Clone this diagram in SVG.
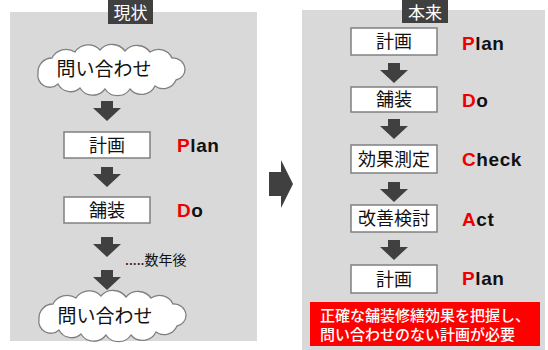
<svg xmlns="http://www.w3.org/2000/svg" xmlns:xlink="http://www.w3.org/1999/xlink" width="548" height="350" viewBox="0 0 548 350">
<style>
.panel{fill:#d9d9d9}
.lbl{fill:#404040}
.lblt{fill:#ffffff;font-family:"Noto Sans CJK JP",sans-serif;font-size:17px;text-anchor:middle}
.box{fill:#ffffff;stroke:#808080;stroke-width:1.5}
.jp{font-family:"Noto Sans CJK JP",sans-serif;font-size:18px;fill:#111;text-anchor:middle}
.cloud{fill:#ffffff;stroke:#808080;stroke-width:1.3}
.cl{font-family:"Noto Sans CJK JP",sans-serif;font-size:19px;fill:#111;text-anchor:middle}
.pdca{font-family:"Liberation Sans",Arial,sans-serif;font-weight:bold;font-size:19px;letter-spacing:0.6px;fill:#111}
.r{fill:#ee0000}
.arr{fill:#404040}
.note{font-family:"Noto Sans CJK JP",sans-serif;font-size:15px;font-weight:500;fill:#ffffff}
</style>
<defs>
<path id="ad" d="M-6,0 h12 v7 h8 l-14,13 l-14,-13 h8 z"/>
<path id="cloud" d="M-72,3 A14,14 0 0 1 -58,-12 A16,16 0 0 1 -35,-18 A16,16 0 0 1 -10,-20 A16,16 0 0 1 15,-19 A16,16 0 0 1 40,-18 A15,15 0 0 1 62,-12 A12,12 0 0 1 75,-1 A11,11 0 0 1 66,10 A14,14 0 0 1 45,16 A15,15 0 0 1 20,19 A15,15 0 0 1 -5,19 A15,15 0 0 1 -30,18 A14,14 0 0 1 -52,14 A12,12 0 0 1 -72,3 Z"/>
</defs>

<rect class="panel" x="10" y="12" width="247" height="329"/>
<rect class="panel" x="302" y="10" width="243" height="340"/>

<g id="label-genjo"><rect class="lbl" x="108" y="0" width="45" height="24"/><text class="lblt" x="130.5" y="19">現状</text></g>
<g id="label-honrai"><rect class="lbl" x="402" y="0" width="46" height="23"/><text class="lblt" x="425" y="18.5">本来</text></g>

<g id="cloud1"><use xlink:href="#cloud" href="#cloud" class="cloud" transform="translate(110,70)"/><text class="cl" x="104" y="76">問い合わせ</text></g>
<g id="plan-left"><rect class="box" x="64" y="132" width="86" height="26"/><text class="jp" x="107" y="151.5">計画</text><text class="pdca" x="177" y="152"><tspan class="r">P</tspan>lan</text></g>
<g id="do-left"><rect class="box" x="64" y="197" width="86" height="26"/><text class="jp" x="107" y="216.5">舗装</text><text class="pdca" x="177" y="217"><tspan class="r">D</tspan>o</text></g>
<g id="years"><text x="125" y="265" style="font-family:'Noto Sans CJK JP',sans-serif;font-size:14px;fill:#111">.....数年後</text></g>
<g id="cloud2"><use xlink:href="#cloud" href="#cloud" class="cloud" transform="translate(111,316)"/><text class="cl" x="105" y="323">問い合わせ</text></g>

<g id="plan-r1"><rect class="box" x="351" y="28" width="86" height="27"/><text class="jp" x="394" y="48">計画</text><text class="pdca" x="462" y="50"><tspan class="r">P</tspan>lan</text></g>
<g id="do-r"><rect class="box" x="351" y="87" width="86" height="25"/><text class="jp" x="394" y="106">舗装</text><text class="pdca" x="462" y="107"><tspan class="r">D</tspan>o</text></g>
<g id="check-r"><rect class="box" x="351" y="145" width="86" height="28"/><text class="jp" x="394" y="165.5">効果測定</text><text class="pdca" x="462" y="166"><tspan class="r">C</tspan>heck</text></g>
<g id="act-r"><rect class="box" x="351" y="205" width="86" height="27"/><text class="jp" x="394" y="225">改善検討</text><text class="pdca" x="462" y="226"><tspan class="r">A</tspan>ct</text></g>
<g id="plan-r2"><rect class="box" x="351" y="265" width="86" height="28"/><text class="jp" x="394" y="285.5">計画</text><text class="pdca" x="462" y="285"><tspan class="r">P</tspan>lan</text></g>

<g id="note"><rect x="310" y="302" width="230" height="44" fill="#ff0000"/><text class="note" x="320" y="321">正確な舗装修繕効果を把握し、</text><text class="note" x="320" y="340">問い合わせのない計画が必要</text></g>

<g id="connectors">
<use xlink:href="#ad" href="#ad" class="arr" transform="translate(107,101)"/>
<use xlink:href="#ad" href="#ad" class="arr" transform="translate(107,167)"/>
<use xlink:href="#ad" href="#ad" class="arr" transform="translate(107,237)"/>
<use xlink:href="#ad" href="#ad" class="arr" transform="translate(107,270)"/>
<use xlink:href="#ad" href="#ad" class="arr" transform="translate(394,63)"/>
<use xlink:href="#ad" href="#ad" class="arr" transform="translate(394,119)"/>
<use xlink:href="#ad" href="#ad" class="arr" transform="translate(394,182)"/>
<use xlink:href="#ad" href="#ad" class="arr" transform="translate(394,240)"/>
<path class="arr" d="M269,172 h12 v-12 l12,24 l-12,24 v-12 h-12 z"/>
</g>
</svg>
